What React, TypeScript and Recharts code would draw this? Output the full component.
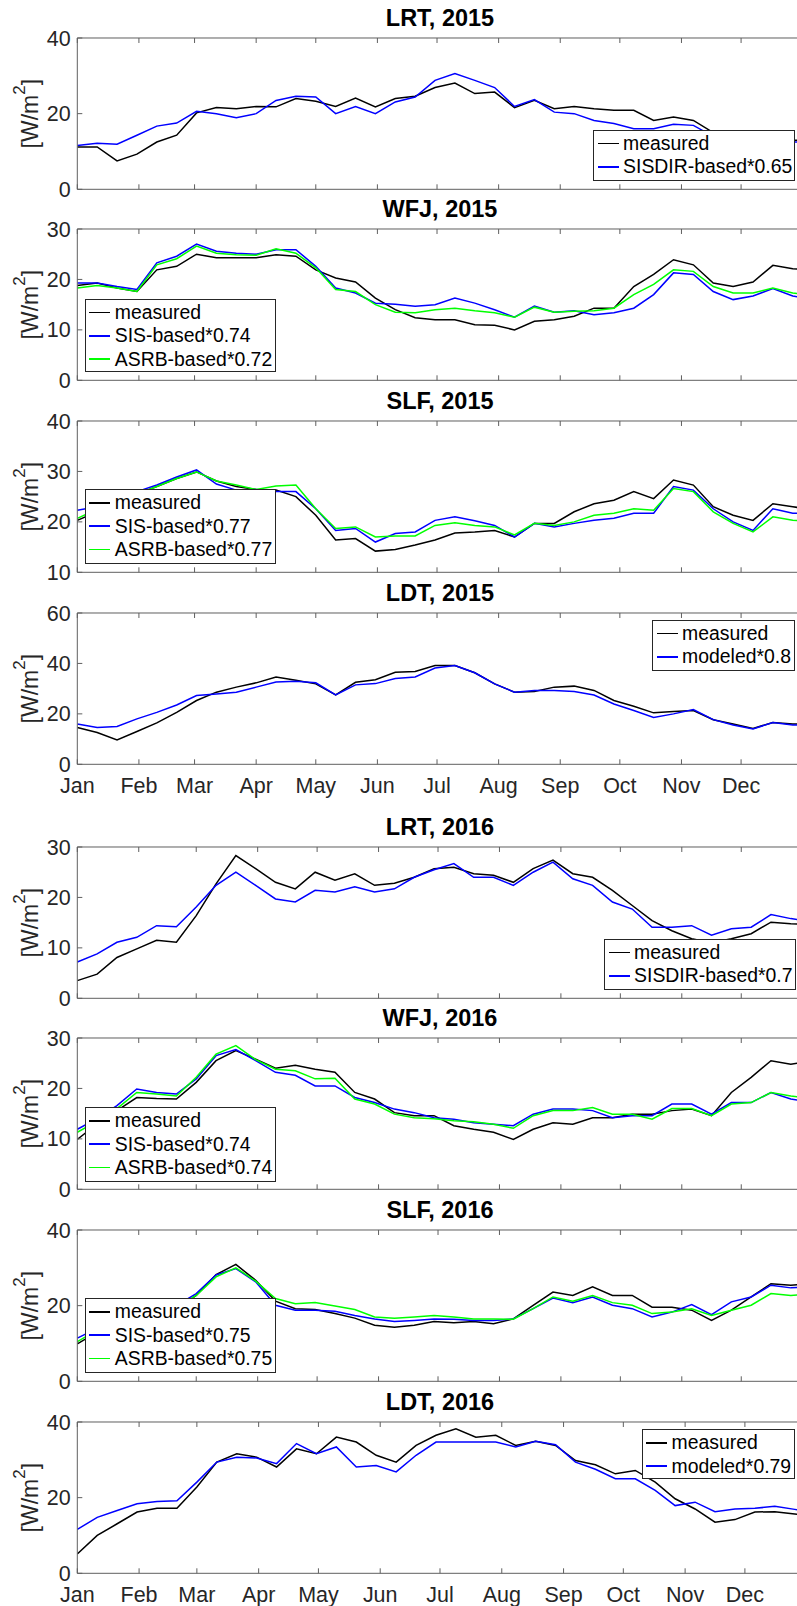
import { Legend, Line, LineChart, XAxis, YAxis } from 'recharts';

const FONT = '"Liberation Sans", Arial, Helvetica, sans-serif';
const TEXT = '#262626';
const AXIS = '#5e5e5e';
const BLACK = '#000000';
const BLUE = '#0000ff';
const GREEN = '#00ff00';

// layout of one axes box (page pixels)
const PLOT_LEFT = 77.3;
const PLOT_RIGHT = 802.7;
const PLOT_H = 151.3;
const HEAD = 40;
const FOOT = 40;
const CHART_W = 830;

const MONTHS = ['Jan', 'Feb', 'Mar', 'Apr', 'May', 'Jun', 'Jul', 'Aug', 'Sep', 'Oct', 'Nov', 'Dec'];
const MONTH_TICKS_2015 = [0, 31, 59, 90, 120, 151, 181, 212, 243, 273, 304, 334];
const MONTH_TICKS_2016 = [0, 31, 60, 91, 121, 152, 182, 213, 244, 274, 305, 335];

const DAYS_2015 = [0, 10, 20, 30, 40, 50, 60, 70, 80, 90, 100, 110, 120, 130, 140, 150, 160, 170, 180, 190, 200, 210, 220, 230, 240, 250, 260, 270, 280, 290, 300, 310, 320, 330, 340, 350, 360, 365];
const DAYS_2016 = [0, 10, 20, 30, 40, 50, 60, 70, 80, 90, 100, 110, 120, 130, 140, 150, 160, 170, 180, 190, 200, 210, 220, 230, 240, 250, 260, 270, 280, 290, 300, 310, 320, 330, 340, 350, 360, 366];
const DAYS_LDT_2016 = [0, 10, 20, 30, 40, 50, 60, 70, 80, 90, 100, 110, 120, 130, 140, 150, 160, 170, 180, 190, 200, 210, 220, 230, 240, 250, 260, 270, 280, 290, 300, 310, 320, 330, 340, 350, 360, 364];

// LRT 2015
const LRT15_MEAS = [11.2, 11.2, 7.5, 9.3, 12.5, 14.3, 20.2, 21.6, 21.3, 21.9, 21.8, 24.0, 23.3, 21.9, 24.1, 21.8, 24.0, 24.6, 26.9, 28.1, 25.3, 25.7, 21.6, 23.5, 21.3, 21.9, 21.3, 20.9, 20.9, 18.2, 19.1, 18.2, 15.0, 13.5, 13.0, 13.0, 13.0, 13.0];
const LRT15_SISDIR = [11.6, 12.2, 11.9, 14.3, 16.7, 17.5, 20.6, 20.0, 18.9, 20.0, 23.5, 24.6, 24.4, 20.0, 21.9, 20.0, 23.1, 24.4, 28.8, 30.6, 28.8, 26.9, 21.9, 23.7, 20.4, 20.0, 18.2, 17.4, 16.0, 16.0, 17.2, 16.9, 14.0, 13.0, 12.5, 12.5, 12.5, 12.5];

// WFJ 2015
const WFJ15_MEAS = [18.8, 19.3, 18.3, 17.6, 21.9, 22.6, 25.0, 24.3, 24.3, 24.3, 24.9, 24.6, 21.9, 20.3, 19.5, 16.3, 14.0, 12.4, 12.0, 12.0, 11.0, 10.9, 10.0, 11.7, 12.0, 12.7, 14.3, 14.3, 18.6, 21.0, 23.9, 22.9, 19.3, 18.6, 19.5, 22.8, 22.1, 22.0];
const WFJ15_SIS = [19.3, 19.3, 18.6, 18.0, 23.3, 24.6, 27.0, 25.6, 25.2, 25.0, 25.9, 25.9, 22.6, 18.3, 17.3, 15.3, 15.1, 14.7, 15.0, 16.3, 15.3, 14.0, 12.5, 14.7, 13.5, 13.8, 13.0, 13.4, 14.3, 17.0, 21.3, 21.0, 17.6, 16.0, 16.7, 18.2, 16.7, 16.4];
const WFJ15_ASRB = [18.3, 18.8, 18.3, 17.6, 22.9, 24.1, 26.6, 25.2, 24.9, 24.8, 26.1, 25.2, 22.3, 18.0, 17.6, 15.0, 13.5, 13.4, 14.0, 14.3, 13.8, 13.4, 12.5, 14.5, 13.5, 13.7, 13.8, 14.3, 17.0, 19.0, 21.9, 21.6, 18.6, 17.3, 17.3, 18.3, 17.3, 17.1];

// SLF 2015
const SLF15_MEAS = [20.3, 22.0, 24.0, 25.5, 27.0, 28.6, 29.9, 28.1, 27.0, 26.4, 26.3, 25.0, 21.3, 16.4, 16.7, 14.2, 14.5, 15.4, 16.4, 17.8, 18.0, 18.3, 17.0, 19.7, 19.7, 22.0, 23.6, 24.3, 26.0, 24.6, 28.3, 27.3, 23.0, 21.3, 20.3, 23.6, 23.0, 22.7];
const SLF15_SIS = [22.3, 23.0, 25.0, 26.0, 27.3, 28.9, 30.3, 27.5, 26.3, 26.4, 26.0, 26.0, 22.6, 18.3, 18.7, 16.0, 17.7, 18.0, 20.3, 21.0, 20.2, 19.3, 17.0, 19.7, 19.0, 19.7, 20.3, 20.7, 21.7, 21.7, 27.0, 26.3, 22.6, 20.0, 18.3, 22.6, 21.7, 21.7];
const SLF15_ASRB = [20.7, 22.5, 24.5, 25.5, 27.0, 28.6, 29.9, 28.1, 27.3, 26.4, 27.1, 27.3, 22.6, 18.7, 19.0, 17.0, 17.2, 17.2, 19.3, 19.8, 19.3, 19.0, 17.4, 19.7, 19.3, 20.0, 21.3, 21.7, 22.6, 22.3, 26.6, 26.0, 22.0, 19.7, 18.0, 21.0, 20.3, 20.2];

// LDT 2015
const LDT15_MEAS = [14.6, 12.6, 9.7, 13.0, 16.4, 20.6, 25.3, 28.6, 30.6, 32.3, 34.6, 33.3, 31.9, 27.5, 32.5, 33.5, 36.5, 36.8, 39.2, 39.2, 36.3, 31.9, 28.6, 28.9, 30.6, 31.0, 29.3, 25.3, 23.0, 20.4, 20.9, 21.3, 17.7, 16.0, 14.2, 16.6, 16.0, 16.0];
const LDT15_MODEL = [16.0, 14.6, 15.0, 18.0, 20.6, 23.5, 27.3, 27.9, 28.6, 30.6, 32.6, 32.9, 32.3, 27.5, 31.5, 32.0, 34.0, 34.6, 38.2, 39.2, 36.3, 31.9, 28.6, 29.3, 29.3, 28.9, 27.5, 23.9, 21.3, 18.6, 20.0, 21.7, 17.7, 15.6, 14.0, 16.6, 15.6, 15.6];

// LRT 2016
const LRT16_MEAS = [3.5, 4.8, 8.1, 9.8, 11.5, 11.1, 16.4, 22.7, 28.3, 25.7, 23.0, 21.7, 25.0, 23.4, 24.7, 22.4, 22.8, 24.0, 25.7, 26.0, 24.7, 24.4, 23.0, 25.7, 27.4, 24.7, 24.0, 21.4, 18.4, 15.4, 13.4, 11.8, 11.0, 11.8, 12.8, 15.1, 14.8, 14.7];
const LRT16_SISDIR = [7.2, 8.8, 11.1, 12.1, 14.4, 14.2, 18.1, 22.4, 25.0, 22.4, 19.7, 19.1, 21.4, 21.1, 22.1, 21.1, 21.7, 24.0, 25.5, 26.7, 24.0, 24.0, 22.4, 25.0, 27.0, 23.7, 22.4, 19.1, 17.7, 14.1, 14.1, 14.4, 12.5, 13.8, 14.1, 16.6, 15.8, 15.5];

// WFJ 2016
const WFJ16_MEAS = [9.9, 13.0, 15.6, 18.2, 18.0, 17.9, 21.2, 25.5, 27.5, 25.8, 24.0, 24.6, 23.8, 23.2, 19.2, 17.9, 15.2, 14.6, 14.6, 12.6, 11.9, 11.3, 9.9, 11.9, 13.2, 12.9, 14.2, 14.2, 14.9, 14.9, 15.6, 15.9, 14.6, 19.2, 22.2, 25.5, 24.8, 25.2];
const WFJ16_SIS = [11.9, 14.0, 16.6, 19.9, 19.2, 18.9, 21.9, 26.5, 27.7, 25.5, 23.2, 22.6, 20.5, 20.5, 18.2, 17.2, 15.9, 15.2, 14.2, 13.9, 13.2, 12.9, 12.6, 14.9, 15.9, 15.9, 15.6, 14.2, 14.6, 14.6, 16.9, 16.9, 14.9, 17.2, 17.2, 19.2, 17.9, 17.5];
const WFJ16_ASRB = [11.3, 13.5, 16.0, 19.2, 18.9, 18.5, 22.2, 26.8, 28.5, 25.7, 23.8, 23.5, 21.9, 22.0, 17.9, 16.9, 14.9, 14.2, 14.0, 13.6, 13.4, 12.9, 12.1, 14.6, 15.6, 15.6, 16.2, 14.9, 14.9, 13.9, 16.0, 16.0, 14.6, 16.9, 17.2, 19.2, 18.5, 18.2];

// SLF 2016
const SLF16_MEAS = [9.9, 13.0, 17.0, 20.0, 20.0, 19.0, 22.7, 28.2, 30.9, 26.7, 21.2, 19.2, 19.0, 17.9, 16.7, 14.8, 14.3, 14.8, 15.8, 15.5, 15.8, 15.2, 16.5, 20.1, 23.6, 22.7, 25.0, 22.7, 22.7, 19.6, 19.6, 18.8, 16.1, 18.8, 22.3, 25.8, 25.4, 25.6];
const SLF16_SIS = [11.4, 14.0, 18.5, 21.5, 21.0, 20.0, 23.2, 28.1, 29.8, 26.3, 20.1, 18.8, 18.8, 18.5, 17.4, 16.5, 15.8, 16.1, 16.5, 16.4, 16.1, 16.1, 16.5, 19.2, 22.0, 20.8, 22.3, 20.1, 19.2, 17.0, 18.3, 20.3, 17.6, 21.0, 22.3, 25.4, 24.7, 24.9];
const SLF16_ASRB = [10.5, 13.5, 17.5, 20.5, 20.5, 19.5, 22.7, 27.6, 30.0, 26.5, 21.9, 20.5, 20.8, 19.9, 19.0, 17.0, 16.7, 17.0, 17.4, 17.0, 16.5, 16.5, 16.4, 19.2, 22.3, 21.2, 22.7, 20.8, 20.1, 17.9, 18.3, 19.2, 17.4, 18.8, 20.1, 23.2, 22.7, 22.9];

// LDT 2016
const LDT16_MEAS = [5.1, 10.0, 13.1, 16.2, 17.2, 17.2, 22.8, 29.4, 31.6, 30.7, 28.1, 32.9, 31.6, 36.0, 34.7, 31.2, 29.4, 33.8, 36.5, 38.2, 36.0, 36.5, 33.8, 34.9, 33.8, 29.8, 28.7, 26.3, 27.2, 24.1, 19.7, 17.0, 13.5, 14.2, 16.2, 16.3, 15.7, 15.4];
const LDT16_MODEL = [11.6, 14.8, 16.6, 18.4, 19.0, 19.2, 24.1, 29.4, 30.7, 30.5, 29.0, 34.3, 31.6, 33.4, 28.1, 28.5, 26.8, 31.2, 34.7, 34.7, 34.7, 34.7, 33.4, 34.9, 34.0, 29.4, 27.5, 25.0, 25.0, 21.9, 17.9, 18.8, 16.3, 17.0, 17.2, 17.7, 16.9, 16.6];

type Series = { key: string; name: string; color: string; values: number[] };
type Box = { x: number; y: number; w: number; h: number };
type PanelDef = {
	top: number;
	title: string;
	days: number[];
	xMax: number;
	monthTicks: number[];
	showMonths: boolean;
	yDomain: [number, number];
	yTicks: number[];
	series: Series[];
	legend: Box;
};

const meas = (values: number[]): Series => ({ key: 'meas', name: 'measured', color: BLACK, values });
const blue = (name: string, values: number[]): Series => ({ key: 'blue', name, color: BLUE, values });
const green = (name: string, values: number[]): Series => ({ key: 'green', name, color: GREEN, values });

const PANELS: PanelDef[] = [
	{
		top: 37.7, title: 'LRT, 2015', days: DAYS_2015, xMax: 365, monthTicks: MONTH_TICKS_2015, showMonths: false,
		yDomain: [0, 40], yTicks: [0, 20, 40],
		series: [meas(LRT15_MEAS), blue('SISDIR-based*0.65', LRT15_SISDIR)],
		legend: { x: 593.3, y: 130, w: 201.7, h: 51 },
	},
	{
		top: 229.4, title: 'WFJ, 2015', days: DAYS_2015, xMax: 365, monthTicks: MONTH_TICKS_2015, showMonths: false,
		yDomain: [0, 30], yTicks: [0, 10, 20, 30],
		series: [meas(WFJ15_MEAS), blue('SIS-based*0.74', WFJ15_SIS), green('ASRB-based*0.72', WFJ15_ASRB)],
		legend: { x: 85, y: 299, w: 191, h: 73.3 },
	},
	{
		top: 421.1, title: 'SLF, 2015', days: DAYS_2015, xMax: 365, monthTicks: MONTH_TICKS_2015, showMonths: false,
		yDomain: [10, 40], yTicks: [10, 20, 30, 40],
		series: [meas(SLF15_MEAS), blue('SIS-based*0.77', SLF15_SIS), green('ASRB-based*0.77', SLF15_ASRB)],
		legend: { x: 85, y: 489.3, w: 191, h: 74.7 },
	},
	{
		top: 612.9, title: 'LDT, 2015', days: DAYS_2015, xMax: 365, monthTicks: MONTH_TICKS_2015, showMonths: true,
		yDomain: [0, 60], yTicks: [0, 20, 40, 60],
		series: [meas(LDT15_MEAS), blue('modeled*0.8', LDT15_MODEL)],
		legend: { x: 652.3, y: 620, w: 142.7, h: 50.7 },
	},
	{
		top: 846.7, title: 'LRT, 2016', days: DAYS_2016, xMax: 366, monthTicks: MONTH_TICKS_2016, showMonths: false,
		yDomain: [0, 30], yTicks: [0, 10, 20, 30],
		series: [meas(LRT16_MEAS), blue('SISDIR-based*0.7', LRT16_SISDIR)],
		legend: { x: 604.3, y: 939, w: 191.4, h: 51 },
	},
	{
		top: 1038.4, title: 'WFJ, 2016', days: DAYS_2016, xMax: 366, monthTicks: MONTH_TICKS_2016, showMonths: false,
		yDomain: [0, 30], yTicks: [0, 10, 20, 30],
		series: [meas(WFJ16_MEAS), blue('SIS-based*0.74', WFJ16_SIS), green('ASRB-based*0.74', WFJ16_ASRB)],
		legend: { x: 85, y: 1107.3, w: 191, h: 75 },
	},
	{
		top: 1230.1, title: 'SLF, 2016', days: DAYS_2016, xMax: 366, monthTicks: MONTH_TICKS_2016, showMonths: false,
		yDomain: [0, 40], yTicks: [0, 20, 40],
		series: [meas(SLF16_MEAS), blue('SIS-based*0.75', SLF16_SIS), green('ASRB-based*0.75', SLF16_ASRB)],
		legend: { x: 85, y: 1298.3, w: 191, h: 74.4 },
	},
	{
		top: 1421.9, title: 'LDT, 2016', days: DAYS_LDT_2016, xMax: 364, monthTicks: MONTH_TICKS_2016, showMonths: true,
		yDomain: [0, 40], yTicks: [0, 20, 40],
		series: [meas(LDT16_MEAS), blue('modeled*0.79', LDT16_MODEL)],
		legend: { x: 641.7, y: 1429.3, w: 153.3, h: 50 },
	},
];

function LegendBox({ series }: { series: Series[] }) {
	return (
		<div
			style={{
				boxSizing: 'border-box',
				width: '100%',
				height: '100%',
				background: '#fff',
				border: `1px solid ${TEXT}`,
				paddingTop: 1,
				fontFamily: FONT,
				fontSize: 19.4,
				color: '#000',
			}}
		>
			{series.map((s) => (
				<div key={s.key} style={{ display: 'flex', alignItems: 'center', height: 23.3, whiteSpace: 'nowrap' }}>
					<span style={{ display: 'inline-block', width: 21, height: 1.5, background: s.color, marginLeft: 3.3, marginRight: 4.5 }} />
					<span style={{ lineHeight: '23.3px' }}>{s.name}</span>
				</div>
			))}
		</div>
	);
}

function Panel({ def }: { def: PanelDef }) {
	const data = def.days.map((d, i) => {
		const row: Record<string, number> = { day: d };
		def.series.forEach((s) => {
			row[s.key] = s.values[i];
		});
		return row;
	});
	const chartTop = def.top - HEAD;
	const midY = HEAD + PLOT_H / 2;
	const monthLabel = (v: number) => (def.showMonths ? MONTHS[def.monthTicks.indexOf(v)] ?? '' : '');

	return (
		<div style={{ position: 'absolute', left: 0, top: chartTop }}>
			<LineChart
				width={CHART_W}
				height={HEAD + PLOT_H + FOOT}
				data={data}
				margin={{ top: HEAD - 1, right: CHART_W - PLOT_RIGHT - 1, bottom: 0, left: 0 }}
			>
				<XAxis
					xAxisId="top"
					orientation="top"
					dataKey="day"
					type="number"
					domain={[0, def.xMax]}
					ticks={def.monthTicks}
					interval={0}
					allowDataOverflow
					height={1}
					tickSize={-5}
					tickFormatter={() => ''}
					stroke={AXIS}
					label={() => (
						<text
							x={(PLOT_LEFT + PLOT_RIGHT) / 2}
							y={HEAD - 12}
							textAnchor="middle"
							fontFamily={FONT}
							fontWeight="bold"
							fontSize={23.5}
							fill="#000"
						>
							{def.title}
						</text>
					)}
				/>
				<XAxis
					dataKey="day"
					type="number"
					domain={[0, def.xMax]}
					ticks={def.monthTicks}
					interval={0}
					allowDataOverflow
					height={FOOT}
					tickSize={-5}
					tickMargin={18.5}
					stroke={AXIS}
					tick={{ fill: TEXT, fontSize: 21.5, fontFamily: FONT }}
					tickFormatter={monthLabel}
				/>
				<YAxis
					type="number"
					domain={def.yDomain}
					ticks={def.yTicks}
					interval={0}
					allowDataOverflow
					width={PLOT_LEFT}
					tickSize={-5}
					tickMargin={11.6}
					stroke={AXIS}
					tick={{ fill: TEXT, fontSize: 21.5, fontFamily: FONT }}
					label={() => (
						<text
							x={38}
							y={midY}
							transform={`rotate(-90 38 ${midY})`}
							textAnchor="middle"
							fontFamily={FONT}
							fontSize={23}
							fill={TEXT}
						>
							[W/m
							<tspan dy={-13} fontSize={17}>2</tspan>
							<tspan dy={13}>]</tspan>
						</text>
					)}
				/>
				<YAxis
					yAxisId="right"
					orientation="right"
					type="number"
					domain={def.yDomain}
					ticks={def.yTicks}
					interval={0}
					allowDataOverflow
					width={1}
					tickSize={-5}
					tickFormatter={() => ''}
					stroke={AXIS}
				/>
				<Legend
					layout="vertical"
					align="center"
					verticalAlign="middle"
					content={() => <LegendBox series={def.series} />}
					wrapperStyle={{
						left: def.legend.x,
						top: def.legend.y - chartTop,
						width: def.legend.w,
						height: def.legend.h,
					}}
				/>
				{def.series.map((s) => (
					<Line
						key={s.key}
						type="linear"
						dataKey={s.key}
						name={s.name}
						stroke={s.color}
						strokeWidth={1.5}
						dot={false}
						activeDot={false}
						isAnimationActive={false}
					/>
				))}
			</LineChart>
		</div>
	);
}

export default function App() {
	return (
		<div
			style={{
				position: 'absolute',
				left: 0,
				top: 0,
				width: 797,
				height: 1606,
				overflow: 'hidden',
				background: '#fff',
				fontFamily: FONT,
			}}
		>
			{PANELS.map((p) => (
				<Panel key={p.title} def={p} />
			))}
		</div>
	);
}
